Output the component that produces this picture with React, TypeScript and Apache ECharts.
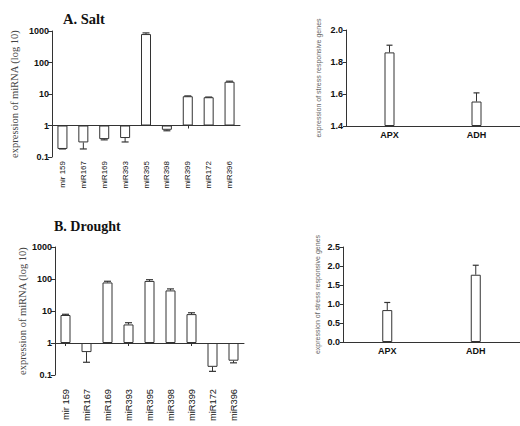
import React, { useEffect, useRef } from 'react';
import * as echarts from 'echarts';

const mirnaCategories = ['mir 159', 'miR167', 'miR169', 'miR393', 'miR395', 'miR398', 'miR399', 'miR172', 'miR396'];
const saltValues = [0.18, 0.29, 0.37, 0.4, 800, 0.73, 8.5, 7.9, 24.5];
const saltErrTips = [0.18, 0.18, 0.35, 0.3, 870, 0.68, 8.7, 8.0, 25.5];
const droughtValues = [7.5, 0.52, 78, 3.8, 87, 44, 8.0, 0.18, 0.28];
const droughtErrTips = [7.9, 0.25, 85, 4.3, 95, 49, 8.8, 0.13, 0.24];
const geneCategories = ['APX', 'ADH'];
const saltGeneValues = [1.86, 1.553];
const saltGeneErrTips = [1.905, 1.607];
const droughtGeneValues = [0.84, 1.77];
const droughtGeneErrTips = [1.04, 2.02];

const SANS = 'Liberation Sans';
const SERIF = 'Liberation Serif';
const INK = '#333';

const errRender = (capHalf: number) => (params: any, api: any) => {
  const i = api.value(0);
  const a = api.coord([i, api.value(1)]);
  const b = api.coord([i, api.value(2)]);
  return {
    type: 'group',
    children: [
      { type: 'line', shape: { x1: a[0], y1: a[1], x2: b[0], y2: b[1] }, style: { stroke: INK, lineWidth: 1 } },
      { type: 'line', shape: { x1: b[0] - capHalf, y1: b[1], x2: b[0] + capHalf, y2: b[1] }, style: { stroke: INK, lineWidth: 1.2 } },
    ],
  };
};

const barSeries = (values: number[], xi: number, yi: number) => ({
  type: 'bar',
  xAxisIndex: xi,
  yAxisIndex: yi,
  data: values,
  barWidth: 10,
  itemStyle: { color: '#fff', borderColor: INK, borderWidth: 1 },
  silent: true,
});

const errSeries = (values: number[], tips: number[], xi: number, yi: number, cap: number) => ({
  type: 'custom',
  xAxisIndex: xi,
  yAxisIndex: yi,
  data: values.map((v, i) => [i, v, tips[i]]),
  encode: { x: 0, y: 1 },
  renderItem: errRender(cap),
  silent: true,
  z: 5,
});

const logY = (grid: number, gap: number) => ({
  type: 'log',
  gridIndex: grid,
  logBase: 10,
  min: 0.1,
  max: 1000,
  name: 'expression of miRNA (log 10)',
  nameLocation: 'middle',
  nameGap: gap,
  nameTextStyle: { fontFamily: SERIF, fontSize: 10.5, color: '#444' },
  axisLine: { show: true, lineStyle: { color: INK } },
  axisTick: { show: true, length: 4, lineStyle: { color: INK } },
  axisLabel: {
    fontFamily: SANS, fontWeight: 'bold', fontSize: 9, color: '#111', margin: 3,
    formatter: (v: number) => String(v),
  },
  splitLine: { show: false },
  minorTick: { show: false },
});

const lineX = (grid: number, offset: number) => ({
  type: 'category',
  gridIndex: grid,
  data: mirnaCategories,
  position: 'bottom',
  offset,
  axisLine: { show: true, onZero: false, lineStyle: { color: INK } },
  axisTick: { show: true, alignWithLabel: true, length: 3, lineStyle: { color: INK } },
  axisLabel: { show: false },
});

const labelX = (grid: number, margin: number, size: number) => ({
  type: 'category',
  gridIndex: grid,
  data: mirnaCategories,
  position: 'bottom',
  axisLine: { show: false, onZero: false },
  axisTick: { show: false },
  axisLabel: { rotate: 90, margin, fontFamily: SANS, fontSize: size, color: '#111' },
});

const geneX = (grid: number) => ({
  type: 'category',
  gridIndex: grid,
  data: geneCategories,
  position: 'bottom',
  axisLine: { show: true, onZero: false, lineStyle: { color: INK } },
  axisTick: { show: false },
  axisLabel: { fontFamily: SANS, fontWeight: 'bold', fontSize: 9, color: '#111', margin: 4 },
});

const geneY = (grid: number, min: number, max: number, interval: number, gap: number) => ({
  type: 'value',
  gridIndex: grid,
  min,
  max,
  interval,
  startValue: min,
  name: 'expression of stress responsive genes',
  nameLocation: 'middle',
  nameGap: gap,
  nameTextStyle: { fontFamily: SANS, fontSize: 7, color: '#666' },
  axisLine: { show: true, lineStyle: { color: INK } },
  axisTick: { show: true, length: 3, lineStyle: { color: INK } },
  axisLabel: { fontFamily: SANS, fontWeight: 'bold', fontSize: 9, color: '#111', margin: 3, formatter: (v: number) => v.toFixed(1) },
  splitLine: { show: false },
});

export default function App() {
  const ref = useRef<HTMLDivElement>(null);
  useEffect(() => {
    if (!ref.current) return;
    const chart = echarts.init(ref.current, undefined, { renderer: 'svg' });
    chart.setOption({
      animation: false,
      backgroundColor: '#fff',
      title: [
        { text: 'A. Salt', left: 58, top: 6, textStyle: { fontFamily: SERIF, fontWeight: 'bold', fontSize: 14.5, color: '#111' } },
        { text: 'B. Drought', left: 49, top: 214, textStyle: { fontFamily: SERIF, fontWeight: 'bold', fontSize: 14, color: '#111' } },
      ],
      grid: [
        { left: 52, top: 31, width: 188, height: 126 },
        { left: 55, top: 247, width: 189, height: 128 },
        { left: 346, top: 30, width: 179, height: 96 },
        { left: 343, top: 247, width: 191, height: 95 },
      ],
      xAxis: [
        lineX(0, -31.5),
        labelX(0, 4, 8),
        lineX(1, -32),
        labelX(1, 14, 9.3),
        geneX(2),
        geneX(3),
      ],
      yAxis: [
        logY(0, 32),
        logY(1, 22),
        geneY(2, 1.4, 2.0, 0.2, 24),
        geneY(3, 0, 2.5, 0.5, 22),
      ],
      series: [
        barSeries(saltValues, 0, 0),
        errSeries(saltValues, saltErrTips, 0, 0, 3.5),
        barSeries(droughtValues, 2, 1),
        errSeries(droughtValues, droughtErrTips, 2, 1, 3.5),
        barSeries(saltGeneValues, 4, 2),
        errSeries(saltGeneValues, saltGeneErrTips, 4, 2, 3),
        barSeries(droughtGeneValues, 5, 3),
        errSeries(droughtGeneValues, droughtGeneErrTips, 5, 3, 3),
      ],
    });
    return () => chart.dispose();
  }, []);
  return <div ref={ref} style={{ position: 'fixed', left: 0, top: 0, width: 520, height: 426 }} />;
}
